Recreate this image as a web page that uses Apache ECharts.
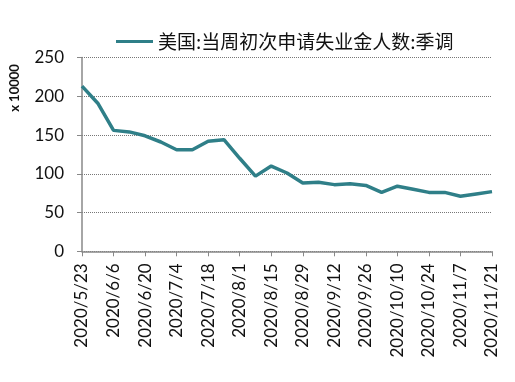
<!DOCTYPE html>
<html><head><meta charset="utf-8">
<script src="https://cdn.jsdelivr.net/npm/echarts@6/dist/echarts.min.js"></script>
<style>html,body{margin:0;padding:0;background:#fff}#c{width:515px;height:382px}</style>
</head><body><div id="c"></div>
<script>
var seriesName = '美国:当周初次申请失业金人数:季调';
var categories = ['2020/5/23','2020/5/30','2020/6/6','2020/6/13','2020/6/20','2020/6/27','2020/7/4','2020/7/11','2020/7/18','2020/7/25','2020/8/1','2020/8/8','2020/8/15','2020/8/22','2020/8/29','2020/9/5','2020/9/12','2020/9/19','2020/9/26','2020/10/3','2020/10/10','2020/10/17','2020/10/24','2020/10/31','2020/11/7','2020/11/14','2020/11/21'];
var values = [213,191,156,154,149,141,131,131,142,144,120,97,110,101,88,89,86,87,85,76,84,80,76,76,71,74,77];
var yTicks = [0,50,100,150,200,250];
var yUnit = 'x 10000';

var chart = echarts.init(document.getElementById('c'));
chart.setOption({
  animation:false,
  textStyle:{fontFamily:'Lato, "Noto Sans CJK SC"'},
  legend:{top:27,left:111,itemWidth:37,itemHeight:3,itemGap:3,icon:'rect',
    textStyle:{fontSize:19,color:'#111',fontFamily:'"Noto Sans CJK SC"'}},
  graphic:[{type:'text',x:15,y:88,rotation:Math.PI/2,
    style:{text:yUnit,font:'bold 13px Lato',fill:'#111',align:'center',verticalAlign:'middle'}}],
  grid:{left:82,right:23,top:57.5,bottom:130.7,containLabel:false},
  xAxis:{type:'category',data:categories,boundaryGap:false,
    axisLine:{lineStyle:{color:'#888',width:1.5}},
    axisTick:{interval:1,length:5,inside:false,lineStyle:{color:'#888'}},
    axisLabel:{interval:1,rotate:90,fontSize:17,color:'#111',margin:12}},
  yAxis:{type:'value',min:yTicks[0],max:yTicks[yTicks.length-1],interval:50,
    axisLine:{show:true,lineStyle:{color:'#888',width:1.5}},
    axisTick:{show:true,length:5,lineStyle:{color:'#888'}},
    axisLabel:{fontSize:17,color:'#111',margin:18},
    splitLine:{lineStyle:{type:'dotted',color:'#777'}}},
  series:[{name:seriesName,type:'line',data:values,symbol:'none',
    lineStyle:{color:'#2F7F88',width:3.5},itemStyle:{color:'#2F7F88'}}]
});
</script></body></html>
